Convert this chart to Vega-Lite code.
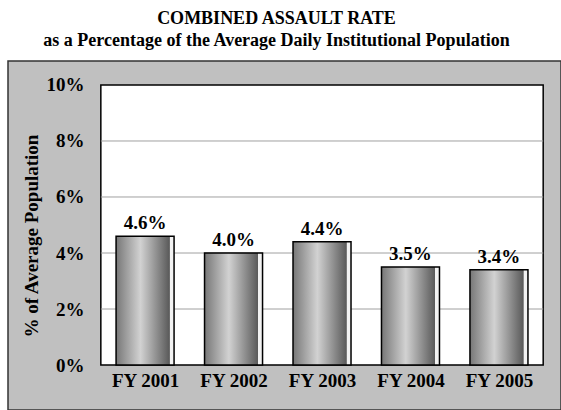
{
  "$schema": "https://vega.github.io/schema/vega-lite/v6.json",
  "autosize": "none",
  "padding": {"left": 8, "top": 61, "right": 0, "bottom": 0},
  "width": 553,
  "height": 349,
  "background": "white",
  "title": {
    "text": ["COMBINED ASSAULT RATE", "as a Percentage of the Average Daily Institutional Population"],
    "font": "Liberation Serif",
    "fontSize": 18,
    "fontWeight": "bold",
    "color": "#000000",
    "lineHeight": 22,
    "anchor": "middle",
    "dx": -8,
    "offset": 11
  },
  "config": {
    "view": {"fill": "#c0c0c0", "stroke": "#333333", "strokeWidth": 1.5},
    "axis": {"labelFont": "Liberation Serif", "titleFont": "Liberation Serif", "labelColor": "#000", "titleColor": "#000"}
  },
  "datasets": {
    "rates": [
      {"year": 2001, "rate": 0.046},
      {"year": 2002, "rate": 0.040},
      {"year": 2003, "rate": 0.044},
      {"year": 2004, "rate": 0.035},
      {"year": 2005, "rate": 0.034}
    ],
    "grid": [{"g": 0.02}, {"g": 0.04}, {"g": 0.06}, {"g": 0.08}]
  },
  "layer": [
    {
      "data": {"values": [{}]},
      "mark": {"type": "rect", "fill": "white", "stroke": "#000", "strokeWidth": 1.5},
      "encoding": {
        "x": {"datum": 2000.5, "type": "quantitative", "scale": {"domain": [1999.5072, 2005.6448], "nice": false, "zero": false}, "axis": {"values": [2001, 2002, 2003, 2004, 2005], "labelExpr": "'FY ' + datum.value", "title": null, "domain": false, "ticks": false, "grid": false, "labelFontSize": 19, "labelFontWeight": "bold", "labelPadding": 6, "offset": -45, "labelBaseline": "top"}},
        "x2": {"datum": 2005.5},
        "y": {"datum": 0, "type": "quantitative", "scale": {"domain": [-0.016071, 0.108571], "nice": false, "zero": false}, "axis": {"values": [0, 0.02, 0.04, 0.06, 0.08, 0.1], "format": ".0%", "title": "% of Average Population", "titleFontSize": 19, "titleFontWeight": "bold", "titlePadding": 5, "domain": false, "ticks": false, "grid": false, "labelFontSize": 19, "labelFontWeight": "bold", "labelPadding": 13, "offset": -89}},
        "y2": {"datum": 0.1}
      }
    },
    {
      "data": {"name": "grid"},
      "mark": {"type": "rule", "color": "#a0a0a0", "strokeWidth": 1},
      "encoding": {
        "x": {"datum": 2000.5, "type": "quantitative"},
        "x2": {"datum": 2005.5},
        "y": {"field": "g", "type": "quantitative"}
      }
    },
    {
      "data": {"name": "rates"},
      "mark": {
        "type": "bar",
        "orient": "vertical",
        "size": 58,
        "stroke": "#000",
        "strokeWidth": 1.5,
        "color": {
          "gradient": "linear", "x1": 0, "x2": 1, "y1": 0, "y2": 0,
          "stops": [
            {"offset": 0, "color": "#777777"},
            {"offset": 0.42, "color": "#d2d2d2"},
            {"offset": 0.92, "color": "#5a5a5a"},
            {"offset": 0.93, "color": "#f2f2f2"},
            {"offset": 1, "color": "#f2f2f2"}
          ]
        }
      },
      "encoding": {
        "x": {"field": "year", "type": "quantitative"},
        "y": {"field": "rate", "type": "quantitative"}
      }
    },
    {
      "data": {"name": "rates"},
      "mark": {"type": "text", "font": "Liberation Serif", "fontSize": 19, "fontWeight": "bold", "baseline": "bottom", "dy": -3, "color": "#000"},
      "encoding": {
        "x": {"field": "year", "type": "quantitative"},
        "y": {"field": "rate", "type": "quantitative"},
        "text": {"field": "rate", "type": "quantitative", "format": ".1%"}
      }
    }
  ]
}
